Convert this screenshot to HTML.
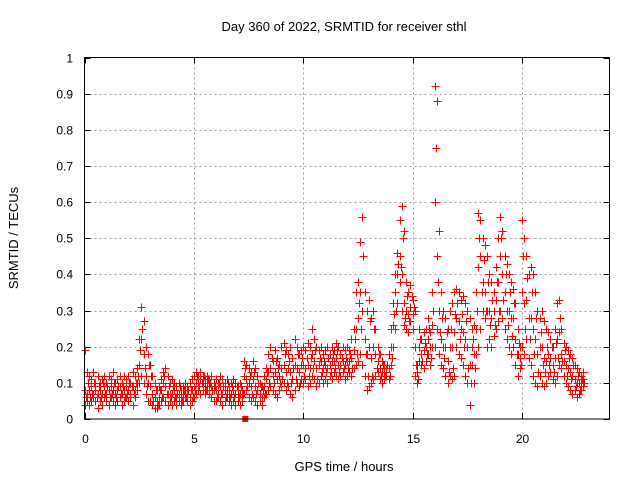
<!DOCTYPE html>
<html><head><meta charset="utf-8"><style>
body{margin:0;background:#fff}
svg{display:block;font-family:"Liberation Sans",sans-serif}
</style></head><body>
<svg id="chart" width="640" height="480" viewBox="0 0 640 480">
<rect width="640" height="480" fill="#fff"/>
<text x="344" y="31" font-size="13" text-anchor="middle">Day 360 of 2022, SRMTID for receiver sthl</text>
<g id="grid"></g>
<g id="ticks"></g>
<g id="marks"></g>
<rect x="84.5" y="57.5" width="525" height="361.5" fill="none" stroke="#000" stroke-width="1" shape-rendering="crispEdges"/>
<text x="344" y="471" font-size="13" text-anchor="middle">GPS time / hours</text>
<text transform="translate(18,238) rotate(-90)" font-size="13" text-anchor="middle">SRMTID / TECUs</text>
</svg>
<script>
const xTicks=[0,5,10,15,20];
const yTicks=[0,0.1,0.2,0.3,0.4,0.5,0.6,0.7,0.8,0.9,1];
const yTickLabels=["0","0.1","0.2","0.3","0.4","0.5","0.6","0.7","0.8","0.9","1"];
const tStart=0, tStep=0.1, tOffset2=0.05;
const hiVals=[.19,.13,.12,.11,.13,.1,.12,.1,.11,.12,
.1,.12,.11,.13,.1,.11,.12,.1,.12,.11,
.12,.1,.13,.12,.14,.22,.31,.27,.2,.18,
.15,.12,.1,.08,.09,.11,.13,.14,.12,.1,
.11,.1,.09,.1,.08,.09,.1,.09,.1,.11,
.12,.13,.12,.13,.12,.11,.12,.11,.12,.1,
.11,.1,.12,.11,.1,.11,.09,.1,.11,.1,
.09,.1,.08,.16,.15,.14,.13,.16,.14,.12,
.1,.09,.12,.14,.18,.2,.16,.19,.17,.15,
.2,.21,.19,.18,.2,.17,.22,.2,.18,.19,
.2,.19,.21,.2,.25,.22,.2,.19,.2,.18,
.19,.2,.18,.2,.19,.21,.2,.18,.2,.19,
.2,.19,.22,.25,.35,.38,.49,.56,.35,.3,
.33,.28,.3,.25,.2,.18,.16,.15,.14,.18,
.25,.32,.4,.46,.55,.59,.52,.38,.35,.37,
.33,.3,.15,.25,.22,.24,.25,.28,.24,.35,
.92,.88,.52,.35,.3,.28,.25,.3,.32,.35,
.36,.35,.33,.34,.32,.3,.28,.25,.26,.35,
.57,.55,.5,.48,.45,.4,.38,.35,.42,.5,
.56,.52,.45,.43,.4,.38,.36,.32,.25,.2,
.55,.5,.45,.4,.42,.4,.35,.3,.28,.3,
.27,.25,.24,.22,.2,.25,.32,.33,.25,.21,
.2,.19,.18,.17,.15,.14,.13,.12,.13];
const midVals=[.08,.07,.08,.09,.07,.08,.07,.08,.07,.09,
.07,.08,.09,.08,.07,.08,.09,.07,.08,.09,
.08,.07,.09,.08,.1,.15,.22,.18,.12,.1,
.09,.07,.06,.05,.06,.08,.1,.09,.07,.07,
.07,.08,.06,.07,.06,.07,.08,.07,.06,.08,
.09,.1,.1,.11,.1,.09,.1,.09,.09,.08,
.08,.08,.09,.07,.08,.08,.07,.07,.08,.07,
.07,.07,.06,.12,.11,.1,.09,.11,.09,.08,
.07,.06,.09,.11,.13,.14,.12,.13,.11,.12,
.14,.15,.13,.14,.13,.11,.15,.14,.13,.15,
.15,.14,.15,.14,.18,.16,.14,.15,.16,.14,
.15,.14,.15,.16,.16,.17,.15,.15,.16,.15,
.16,.16,.17,.19,.25,.28,.35,.3,.22,.18,
.2,.17,.2,.18,.16,.14,.13,.13,.13,.14,
.2,.26,.35,.4,.45,.4,.32,.3,.29,.31,
.29,.2,.13,.2,.18,.19,.2,.22,.2,.26,
.6,.45,.3,.22,.2,.2,.16,.2,.2,.24,
.28,.27,.25,.24,.22,.2,.15,.2,.18,.25,
.42,.45,.38,.35,.3,.3,.28,.3,.33,.38,
.45,.4,.35,.3,.3,.28,.28,.22,.18,.17,
.35,.32,.33,.28,.28,.25,.22,.18,.2,.2,
.17,.16,.18,.17,.15,.17,.22,.24,.18,.16,
.15,.14,.13,.12,.11,.1,.1,.1,.11];
const loVals=[.04,.05,.04,.05,.06,.05,.03,.05,.04,.06,
.05,.04,.06,.05,.04,.05,.06,.04,.05,.06,
.05,.06,.04,.06,.08,.1,.12,.1,.07,.05,
.05,.04,.03,.03,.04,.05,.06,.05,.04,.05,
.04,.05,.04,.05,.04,.05,.06,.05,.04,.05,
.06,.07,.08,.07,.08,.07,.08,.07,.06,.05,
.05,.06,.05,.04,.05,.06,.05,.04,.05,.04,
.05,.04,.05,.07,.08,.06,.05,.06,.05,.04,
.05,.04,.06,.07,.08,.09,.08,.07,.06,.08,
.09,.1,.08,.09,.07,.06,.08,.1,.09,.11,
.1,.11,.09,.1,.12,.11,.09,.1,.12,.1,
.11,.1,.12,.11,.13,.12,.11,.12,.13,.11,
.12,.13,.12,.14,.15,.16,.18,.15,.12,.08,
.09,.1,.11,.12,.13,.11,.1,.11,.12,.11,
.15,.2,.25,.32,.38,.3,.26,.25,.24,.27,
.25,.12,.1,.16,.15,.14,.16,.18,.15,.2,
.2,.25,.18,.15,.14,.12,.1,.12,.11,.12,
.2,.18,.17,.15,.12,.1,.04,.15,.1,.18,
.2,.25,.3,.28,.2,.22,.2,.23,.25,.27,
.3,.28,.25,.22,.2,.18,.2,.15,.12,.14,
.2,.18,.22,.17,.15,.12,.1,.09,.12,.1,
.09,.1,.12,.13,.11,.1,.12,.15,.14,.12,
.1,.09,.08,.07,.08,.06,.07,.08,.09];
const offVals=[.06,.1,.06,.07,.1,.06,.09,.06,.1,.07,
.09,.06,.07,.1,.06,.09,.07,.09,.06,.07,
.1,.09,.07,.1,.12,.19,.25,.14,.09,.15,
.12,.05,.08,.04,.08,.06,.12,.07,.09,.06,
.09,.06,.07,.09,.05,.08,.06,.08,.08,.06,
.08,.12,.09,.1,.12,.08,.11,.1,.08,.09,
.06,.1,.07,.09,.06,.1,.06,.09,.06,.09,
.06,.09,.07,.14,.09,.12,.07,.13,.07,.1,
.09,.08,.07,.13,.1,.17,.1,.16,.14,.1,
.11,.18,.1,.16,.1,.14,.11,.18,.1,.17,
.12,.17,.12,.17,.14,.19,.11,.17,.13,.16,
.13,.17,.13,.18,.14,.19,.13,.17,.14,.17,
.14,.18,.14,.22,.18,.32,.25,.45,.18,.12,
.27,.12,.25,.14,.18,.12,.15,.12,.15,.12,
.17,.29,.3,.43,.42,.5,.28,.34,.27,.34,
.31,.15,.11,.22,.16,.21,.18,.25,.17,.3,
.75,.38,.24,.28,.17,.24,.13,.25,.14,.29,
.32,.22,.29,.2,.27,.14,.1,.22,.14,.3,
.5,.35,.44,.3,.38,.26,.33,.26,.38,.3,
.5,.33,.4,.26,.35,.23,.32,.18,.21,.15,
.45,.25,.39,.22,.35,.18,.28,.13,.24,.15,
.13,.2,.15,.2,.13,.21,.17,.28,.16,.19,
.12,.17,.11,.15,.09,.12,.08,.11,.1];
const zeroMarkT=7.35;

const X0=84.5,X1=609.5,Y0=419,Y1=57.5,XMAX=24,YMAX=1;
function xs(t){return X0+(t/XMAX)*(X1-X0);}
function ys(v){return Y0-(v/YMAX)*(Y0-Y1);}
const NS="http://www.w3.org/2000/svg";
function mk(tag,attrs,parent){const e=document.createElementNS(NS,tag);for(const k in attrs)e.setAttribute(k,attrs[k]);parent.appendChild(e);return e;}
const grid=document.getElementById('grid'),ticks=document.getElementById('ticks'),marks=document.getElementById('marks');
xTicks.forEach((t,i)=>{
  const x=Math.round(xs(t))+0.5;
  if(i>0){const g=mk('line',{x1:x,x2:x,y1:Y1,y2:Y0,stroke:'#a0a0a0','stroke-dasharray':'2,3','shape-rendering':'crispEdges'},grid);
  
  }
  const tk=mk('path',{d:`M${x} ${Y0}v-6M${x} ${Y1}v6`,stroke:'#000','shape-rendering':'crispEdges'},ticks);
  
  
  const lb=mk('text',{x:x,y:443,'font-size':12,'text-anchor':'middle'},ticks);lb.textContent=String(t);
  
  
});
yTicks.forEach((v,i)=>{
  const y=Math.round(ys(v))+0.5;
  if(i>0&&i<yTicks.length-1){const g=mk('line',{x1:X0,x2:X1,y1:y,y2:y,stroke:'#a0a0a0','stroke-dasharray':'2,3','shape-rendering':'crispEdges'},grid);
  
  }
  const tk=mk('path',{d:`M${X0} ${y}h6M${X1} ${y}h-6`,stroke:'#000','shape-rendering':'crispEdges'},ticks);
  
  
  const lb=mk('text',{x:73,y:y+4,'font-size':12,'text-anchor':'end'},ticks);lb.textContent=yTickLabels[i];
  
  
});
let d='';
function addSeries(arr,off){
  arr.forEach((v,i)=>{
    const x=Math.round(xs(tStart+i*tStep+off))+0.5,y=Math.round(ys(v))+0.5;
    d+=`M${x-4} ${y}h8M${x} ${y-4}v8`;
  });
}
addSeries(loVals,0);addSeries(midVals,0);addSeries(hiVals,0);addSeries(offVals,tOffset2);
const p=mk('path',{d:d,stroke:'#f00','stroke-width':1.4,fill:'none','shape-rendering':'crispEdges'},marks);


const sq=mk('rect',{x:xs(zeroMarkT)-3,y:ys(0)-3,width:6,height:6,fill:'#f00'},marks);


</script>
</body></html>
